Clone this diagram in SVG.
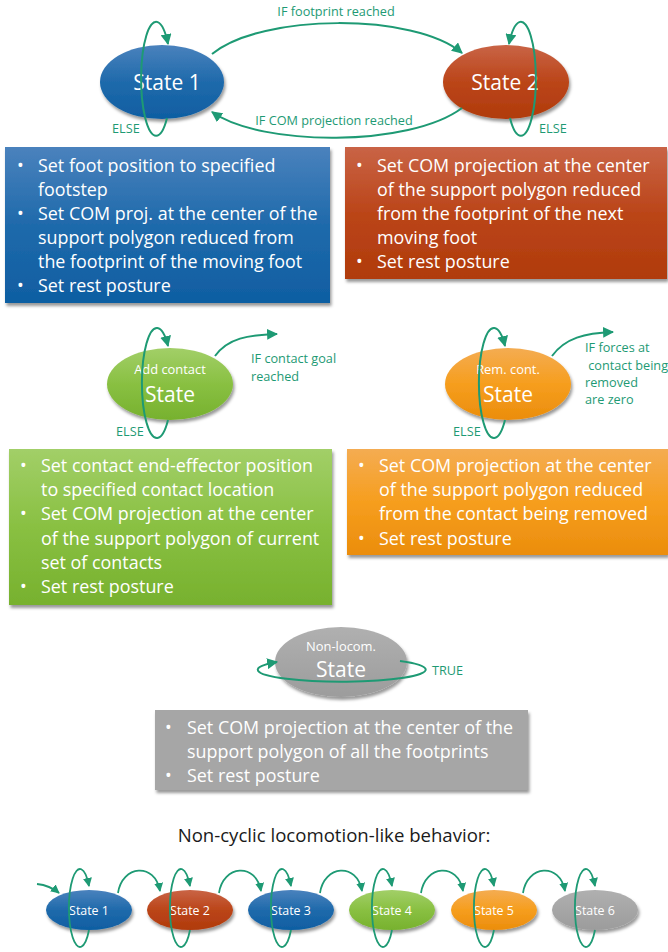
<svg xmlns="http://www.w3.org/2000/svg" width="668" height="952" viewBox="0 0 668 952">
<defs>
<linearGradient id="gBlue" x1="0" y1="0" x2="0" y2="1"><stop offset="0" stop-color="#4a82bd"/><stop offset="0.5" stop-color="#1f6aab"/><stop offset="1" stop-color="#0f5ea2"/></linearGradient>
<linearGradient id="gRed" x1="0" y1="0" x2="0" y2="1"><stop offset="0" stop-color="#c96446"/><stop offset="0.5" stop-color="#bb4519"/><stop offset="1" stop-color="#b03b0c"/></linearGradient>
<linearGradient id="gGreen" x1="0" y1="0" x2="0" y2="1"><stop offset="0" stop-color="#a2cf68"/><stop offset="0.5" stop-color="#89c042"/><stop offset="1" stop-color="#77b12e"/></linearGradient>
<linearGradient id="gOrange" x1="0" y1="0" x2="0" y2="1"><stop offset="0" stop-color="#f4ac52"/><stop offset="0.5" stop-color="#f69e1e"/><stop offset="1" stop-color="#eb8d0c"/></linearGradient>
<linearGradient id="gGray" x1="0" y1="0" x2="0" y2="1"><stop offset="0" stop-color="#b0b0b0"/><stop offset="1" stop-color="#9c9c9c"/></linearGradient>
<filter id="sh" x="-10%" y="-10%" width="125%" height="135%"><feDropShadow dx="1.5" dy="3" stdDeviation="1.8" flood-color="#000" flood-opacity="0.4"/></filter>
<marker id="ah" viewBox="0 0 10 10" refX="9" refY="5" markerWidth="11" markerHeight="11" markerUnits="userSpaceOnUse" orient="auto"><path d="M0,0 L10,5 L0,10 z" fill="#1e9a74"/></marker>
<marker id="ahs" viewBox="0 0 10 10" refX="9" refY="5" markerWidth="9" markerHeight="9" markerUnits="userSpaceOnUse" orient="auto"><path d="M0,0 L10,5 L0,10 z" fill="#1e9a74"/></marker>
</defs>
<style>
text{font-family:"Open Sans","Liberation Sans",sans-serif;}
.box{fill:#fff;font-size:17.9px;}
.st{fill:#fff;font-size:21px;text-anchor:middle;}
.sm{fill:#fff;font-size:12.9px;text-anchor:middle;}
.bs{fill:#fff;font-size:12.4px;text-anchor:middle;}
.lbl{fill:#1e9a74;font-size:12.7px;}
.cn{fill:none;stroke:#1e9a74;stroke-width:2;}
.cns{fill:none;stroke:#1e9a74;stroke-width:1.8;}
</style>
<rect width="668" height="952" fill="#fff"/>

<g id="state1">
<ellipse cx="162" cy="82" rx="62" ry="37" fill="url(#gBlue)" filter="url(#sh)"/>
<text class="st" x="167" y="90">State 1</text>
</g>
<g id="state2">
<ellipse cx="506" cy="82" rx="63" ry="37" fill="url(#gRed)" filter="url(#sh)"/>
<text class="st" x="505" y="90">State 2</text>
</g>
<g id="box1">
<rect x="5" y="147" width="325" height="156" fill="url(#gBlue)" filter="url(#sh)"/>
<text class="box"><tspan x="17" y="172">•</tspan><tspan x="38" y="172">Set foot position to specified</tspan><tspan x="38" y="196">footstep</tspan><tspan x="17" y="220">•</tspan><tspan x="38" y="220">Set COM proj. at the center of the</tspan><tspan x="38" y="244">support polygon reduced from</tspan><tspan x="38" y="268">the footprint of the moving foot</tspan><tspan x="17" y="292">•</tspan><tspan x="38" y="292">Set rest posture</tspan></text>
</g>
<g id="box2">
<rect x="345" y="147" width="322" height="132" fill="url(#gRed)" filter="url(#sh)"/>
<text class="box"><tspan x="356" y="172">•</tspan><tspan x="377" y="172">Set COM projection at the center</tspan><tspan x="377" y="196">of the support polygon reduced</tspan><tspan x="377" y="220">from the footprint of the next</tspan><tspan x="377" y="244">moving foot</tspan><tspan x="356" y="268">•</tspan><tspan x="377" y="268">Set rest posture</tspan></text>
</g>

<g id="addcontact">
<ellipse cx="170" cy="384" rx="63" ry="36" fill="url(#gGreen)" filter="url(#sh)"/>
<text class="sm" x="170" y="374">Add contact</text>
<text class="st" x="170" y="402">State</text>
</g>
<g id="remcontact">
<ellipse cx="508" cy="384" rx="63" ry="36" fill="url(#gOrange)" filter="url(#sh)"/>
<text class="sm" x="508" y="374">Rem. cont.</text>
<text class="st" x="508" y="402">State</text>
</g>
<g id="box3">
<rect x="9" y="449" width="323" height="156" fill="url(#gGreen)" filter="url(#sh)"/>
<text class="box"><tspan x="20" y="472">•</tspan><tspan x="41" y="472">Set contact end-effector position</tspan><tspan x="41" y="496">to specified contact location</tspan><tspan x="20" y="520">•</tspan><tspan x="41" y="520">Set COM projection at the center</tspan><tspan x="41" y="545">of the support polygon of current</tspan><tspan x="41" y="569">set of contacts</tspan><tspan x="20" y="593">•</tspan><tspan x="41" y="593">Set rest posture</tspan></text>
</g>
<g id="box4">
<rect x="347" y="449" width="321" height="106" fill="url(#gOrange)" filter="url(#sh)"/>
<text class="box"><tspan x="358" y="472">•</tspan><tspan x="379" y="472">Set COM projection at the center</tspan><tspan x="379" y="496">of the support polygon reduced</tspan><tspan x="379" y="520">from the contact being removed</tspan><tspan x="358" y="545">•</tspan><tspan x="379" y="545">Set rest posture</tspan></text>
</g>

<g id="nonlocom">
<ellipse cx="341" cy="662" rx="66" ry="35" fill="url(#gGray)" filter="url(#sh)"/>
<text class="sm" x="341" y="651">Non-locom.</text>
<text class="st" x="341" y="677">State</text>
</g>
<g id="box5">
<rect x="155" y="710" width="373" height="80" fill="#a6a6a6" filter="url(#sh)"/>
<text class="box"><tspan x="165" y="734">•</tspan><tspan x="187" y="734">Set COM projection at the center of the</tspan><tspan x="187" y="758">support polygon of all the footprints</tspan><tspan x="165" y="782">•</tspan><tspan x="187" y="782">Set rest posture</tspan></text>
</g>

<g id="title">
<text x="334" y="842" text-anchor="middle" font-size="18.6" fill="#1a1a1a">Non-cyclic locomotion-like behavior:</text>
</g>

<g id="row-state1"><ellipse cx="89" cy="910" rx="43" ry="20" fill="url(#gBlue)" filter="url(#sh)"/><text class="bs" x="89" y="915">State 1</text></g>
<g id="row-state2"><ellipse cx="190" cy="910" rx="43" ry="20" fill="url(#gRed)" filter="url(#sh)"/><text class="bs" x="190" y="915">State 2</text></g>
<g id="row-state3"><ellipse cx="291" cy="910" rx="43" ry="20" fill="url(#gBlue)" filter="url(#sh)"/><text class="bs" x="291" y="915">State 3</text></g>
<g id="row-state4"><ellipse cx="392" cy="910" rx="43" ry="20" fill="url(#gGreen)" filter="url(#sh)"/><text class="bs" x="392" y="915">State 4</text></g>
<g id="row-state5"><ellipse cx="494" cy="910" rx="43" ry="20" fill="url(#gOrange)" filter="url(#sh)"/><text class="bs" x="494" y="915">State 5</text></g>
<g id="row-state6"><ellipse cx="595" cy="910" rx="43" ry="20" fill="url(#gGray)" filter="url(#sh)"/><text class="bs" x="595" y="915">State 6</text></g>

<g id="connectors">
<path class="cn" d="M212,54 C262,13 415,13 462,53" marker-end="url(#ah)"/>
<path class="cn" d="M462,108 C410,147 262,147 212,112" marker-end="url(#ah)"/>
<path class="cn" d="M167,118 A15,57 0 1 1 168,44" marker-end="url(#ah)"/>
<path class="cn" d="M510,118 A15,57 0 1 0 509,44" marker-end="url(#ah)"/>
<path class="cn" d="M168,420 A15,55 0 1 1 168,346" marker-end="url(#ah)"/>
<path class="cn" d="M505,420 A15,55 0 1 1 505,346" marker-end="url(#ah)"/>
<path class="cn" d="M215,356 C228,338 248,335 277,334" marker-end="url(#ah)"/>
<path class="cn" d="M552,356 C565,338 585,333 613,332" marker-end="url(#ah)"/>
<path class="cn" d="M400,661 A84,12 0 1 1 277,662" marker-end="url(#ah)"/>

<path class="cns" d="M37,884 C46,885 53,888 59,893" marker-end="url(#ahs)"/>
<path class="cns" d="M89,930 A11,39 0 1 1 89,886" marker-end="url(#ahs)"/>
<path class="cns" d="M190,930 A11,39 0 1 1 190,886" marker-end="url(#ahs)"/>
<path class="cns" d="M291,930 A11,39 0 1 1 291,886" marker-end="url(#ahs)"/>
<path class="cns" d="M392,930 A11,39 0 1 1 392,886" marker-end="url(#ahs)"/>
<path class="cns" d="M494,930 A11,39 0 1 1 494,886" marker-end="url(#ahs)"/>
<path class="cns" d="M595,930 A11,39 0 1 1 595,886" marker-end="url(#ahs)"/>
<path class="cns" d="M118,893 C122,865 155,862 160,891" marker-end="url(#ahs)"/>
<path class="cns" d="M219,893 C223,865 256,862 261,891" marker-end="url(#ahs)"/>
<path class="cns" d="M320,893 C324,865 357,862 362,891" marker-end="url(#ahs)"/>
<path class="cns" d="M421,893 C425,865 458,862 463,891" marker-end="url(#ahs)"/>
<path class="cns" d="M523,893 C527,865 560,862 565,891" marker-end="url(#ahs)"/>

<text class="lbl" x="336" y="16" text-anchor="middle">IF footprint reached</text>
<text class="lbl" x="334" y="125" text-anchor="middle">IF COM projection reached</text>
<text class="lbl" x="112" y="133">ELSE</text>
<text class="lbl" x="539" y="133">ELSE</text>
<text class="lbl" x="116" y="436">ELSE</text>
<text class="lbl" x="453" y="436">ELSE</text>
<text class="lbl"><tspan x="251" y="363">IF contact goal</tspan><tspan x="251" y="381">reached</tspan></text>
<text class="lbl"><tspan x="585" y="352">IF forces at</tspan><tspan x="585" y="370"> contact being</tspan><tspan x="585" y="387">removed</tspan><tspan x="585" y="404">are zero</tspan></text>
<text class="lbl" x="432" y="675">TRUE</text>
</g>
</svg>
